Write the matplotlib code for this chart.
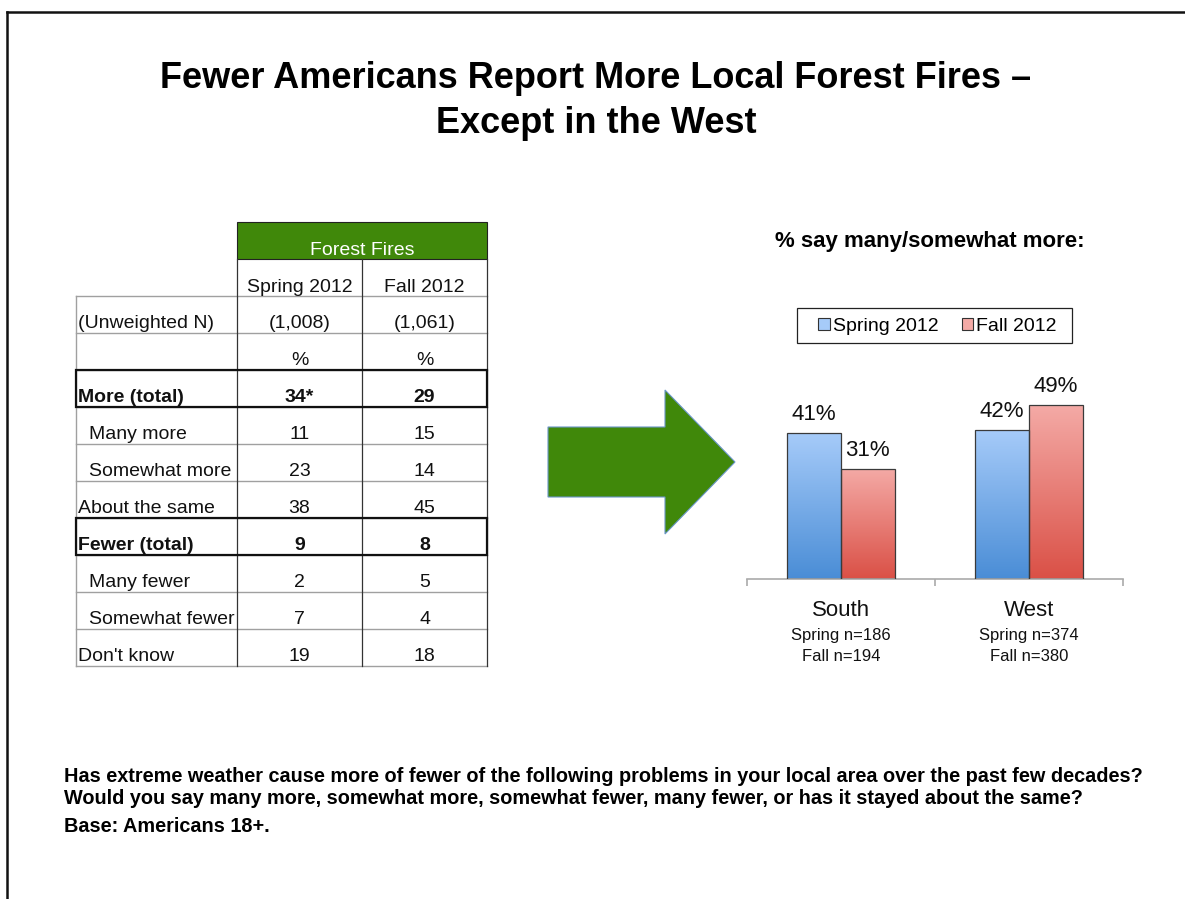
'''
Forest fires slide: survey table on the left, regional bar chart on the right
'''
import numpy as np
import matplotlib
matplotlib.use("Agg")
from matplotlib import pyplot as plt
from matplotlib.patches import Polygon, Patch, Rectangle
from matplotlib.colors import LinearSegmentedColormap

plt.rcParams['font.family'] = ['Liberation Sans', 'DejaVu Sans']

# Table data
row_labels = ["(Unweighted N)", "", "More (total)", "Many more", "Somewhat more",
              "About the same", "Fewer (total)", "Many fewer", "Somewhat fewer",
              "Don't know"]
spring_col = ["(1,008)", "%", "34*", "11", "23", "38", "9", "2", "7", "19"]
fall_col = ["(1,061)", "%", "29", "15", "14", "45", "8", "5", "4", "18"]
bold_rows = [2, 6]
indent_rows = [3, 4, 7, 8]
col_headers = ["Spring 2012", "Fall 2012"]

# Bar chart data
regions = ["South", "West"]
spring_pct = [41, 42]
fall_pct = [31, 49]
spring_n = [186, 374]
fall_n = [194, 380]
series = ["Spring 2012", "Fall 2012"]

GREEN = '#40880a'
BLUE_TOP, BLUE_BOT = '#a6cbf9', '#4a8dd6'
RED_TOP, RED_BOT = '#f4aaa6', '#da5046'

W, H = 1185, 899
fig = plt.figure(figsize=(W / 100, H / 100), dpi=100)

# Background axes in pixel coordinates
ax_bg = fig.add_axes([0, 0, 1, 1])
ax_bg.set_xlim(0, W)
ax_bg.set_ylim(H, 0)
ax_bg.axis('off')

# Slide border
ax_bg.plot([7, W], [12, 12], color='#111111', lw=1.8)
ax_bg.plot([7, 7], [12, H], color='#111111', lw=1.8)

# Title
ax_bg.text(596, 101, "Fewer Americans Report More Local Forest Fires –\nExcept in the West",
           ha='center', va='center', fontsize=26, fontweight='bold', linespacing=1.37)

# Table
x_left, x_c1, x_c2, x_right = 76, 237, 362, 487
row_top = 296
row_h = 37
n_rows = len(row_labels)
y_bottom = row_top + n_rows * row_h

# green header
ax_bg.add_patch(Rectangle((x_c1, 222), x_right - x_c1, 37, facecolor=GREEN,
                          edgecolor='#222222', lw=0.8))
ax_bg.text((x_c1 + x_right) / 2, 255, "Forest Fires", ha='center', va='baseline',
           fontsize=14, color='white')
for i, hdr in enumerate(col_headers):
    cx = (x_c1 + x_c2) / 2 if i == 0 else (x_c2 + x_right) / 2
    ax_bg.text(cx, 292, hdr, ha='center', va='baseline', fontsize=14, color='#111111')

# grid lines
for r in range(n_rows + 1):
    y = row_top + r * row_h
    ax_bg.plot([x_left, x_right], [y, y], color='#a0a0a0', lw=1.0)
ax_bg.plot([x_left, x_left], [row_top, y_bottom], color='#a0a0a0', lw=1.0)
for x in (x_c1, x_c2):
    ax_bg.plot([x, x], [259, y_bottom], color='#333333', lw=0.9)
ax_bg.plot([x_right, x_right], [259, y_bottom], color='#333333', lw=0.9)
for r in bold_rows:
    y0 = row_top + r * row_h
    ax_bg.add_patch(Rectangle((x_left, y0), x_right - x_left, row_h, facecolor='none',
                              edgecolor='#111111', lw=1.6, zorder=3))

for r, label in enumerate(row_labels):
    yb = row_top + (r + 1) * row_h - 5
    weight = 'bold' if r in bold_rows else 'normal'
    lx = x_left + 13 if r in indent_rows else x_left + 2
    ax_bg.text(lx, yb, label, ha='left', va='baseline', fontsize=14,
               fontweight=weight, color='#111111')
    ax_bg.text((x_c1 + x_c2) / 2, yb, spring_col[r], ha='center', va='baseline',
               fontsize=14, fontweight=weight, color='#111111')
    ax_bg.text((x_c2 + x_right) / 2, yb, fall_col[r], ha='center', va='baseline',
               fontsize=14, fontweight=weight, color='#111111')

# Green arrow
arrow_pts = [(548, 427), (665, 427), (665, 390), (735, 462), (665, 534),
             (665, 497), (548, 497)]
ax_bg.add_patch(Polygon(arrow_pts, closed=True, facecolor=GREEN,
                        edgecolor='#6a96c8', lw=0.8))

# Chart heading
ax_bg.text(930, 241, "% say many/somewhat more:", ha='center', va='center',
           fontsize=16, fontweight='bold')

# Bottom question text
ax_bg.text(64, 777, "Has extreme weather cause more of fewer of the following problems "
           "in your local area over the past few decades?", ha='left', va='center',
           fontsize=14.3, fontweight='bold')
ax_bg.text(64, 798, "Would you say many more, somewhat more, somewhat fewer, many fewer, "
           "or has it stayed about the same?", ha='left', va='center',
           fontsize=14.3, fontweight='bold')
ax_bg.text(64, 827, "Base: Americans 18+.", ha='left', va='center',
           fontsize=14.3, fontweight='bold')

# Bar chart
ax = fig.add_axes([747 / W, (H - 579) / H, 376 / W, 213 / H])
ax.patch.set_alpha(0)
centers = np.arange(len(regions)) + 0.5
bw = 0.285


def gradient_bars(xs, vals, top, bot):
    '''Draw bars filled with a vertical gradient'''
    cmap = LinearSegmentedColormap.from_list('g', [bot, top])
    grad = np.linspace(0, 1, 256).reshape(-1, 1)
    bars = ax.bar(xs, vals, width=bw, facecolor='none', edgecolor='#3a3a3a',
                  lw=0.9, zorder=3)
    for b in bars:
        x0, y0 = b.get_x(), b.get_y()
        img = ax.imshow(grad, cmap=cmap, aspect='auto', origin='lower',
                        extent=[x0, x0 + b.get_width(), y0, y0 + b.get_height()],
                        zorder=2)
        img.set_clip_path(b)
    for x, v in zip(xs, vals):
        ax.annotate(f"{v}%", (x, v), xytext=(0, 6), textcoords='offset points',
                    ha='center', va='bottom', fontsize=16, color='#111111')


gradient_bars(centers - bw / 2, spring_pct, BLUE_TOP, BLUE_BOT)
gradient_bars(centers + bw / 2, fall_pct, RED_TOP, RED_BOT)

ax.set_xlim(0, 2)
ax.set_ylim(0, 60)
for s in ('top', 'left', 'right'):
    ax.spines[s].set_visible(False)
ax.spines['bottom'].set_color('#aaaaaa')
ax.spines['bottom'].set_linewidth(1.2)
ax.set_yticks([])
ax.set_xticks([0, 1, 2])
ax.set_xticklabels([])
ax.tick_params(axis='x', direction='out', length=5, width=1.2, color='#aaaaaa')

for c, reg, sn, fn in zip(centers, regions, spring_n, fall_n):
    ax.annotate(reg, (c, 0), xycoords=('data', 'axes fraction'), xytext=(0, -23),
                textcoords='offset points', ha='center', va='center', fontsize=16,
                color='#111111')
    ax.annotate(f"Spring n={sn}", (c, 0), xycoords=('data', 'axes fraction'),
                xytext=(0, -41), textcoords='offset points', ha='center',
                va='center', fontsize=12, color='#111111')
    ax.annotate(f"Fall n={fn}", (c, 0), xycoords=('data', 'axes fraction'),
                xytext=(0, -55.5), textcoords='offset points', ha='center',
                va='center', fontsize=12, color='#111111')

# Legend (frame drawn separately to match the slide's box)
ax_bg.add_patch(Rectangle((797, 308), 275, 35, facecolor='white',
                          edgecolor='#222222', lw=0.9))
handles = [Patch(facecolor=BLUE_TOP, edgecolor='#333333', lw=0.8),
           Patch(facecolor=RED_TOP, edgecolor='#333333', lw=0.8)]
fig.legend(handles, series, loc='center', bbox_to_anchor=(937.5 / W, 1 - 326.5 / H),
           ncol=2, fontsize=14, frameon=False,
           handlelength=0.6, handleheight=0.6, handletextpad=0.15, columnspacing=1.2,
           borderpad=0.35)

fig.savefig("out.png", dpi=100)
